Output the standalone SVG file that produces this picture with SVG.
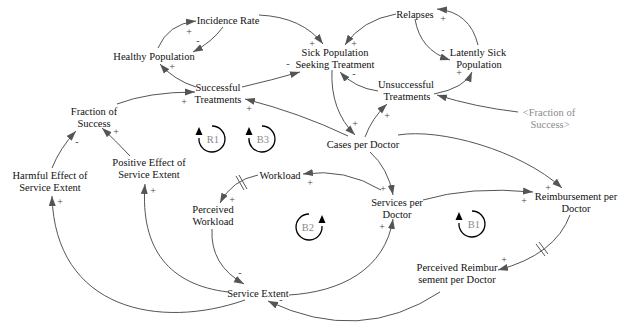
<svg xmlns="http://www.w3.org/2000/svg" width="622" height="325" viewBox="0 0 622 325" font-family="'Liberation Serif', 'Times New Roman', serif">
<style>
.lbl{font-family:"Liberation Serif","Times New Roman",serif;font-size:10.5px;fill:#111;text-anchor:middle}
.gry{fill:#8a8a8a}
.pol{font-family:"Liberation Serif","Times New Roman",serif;font-size:10px;fill:#444;text-anchor:middle}
.c{fill:none;stroke:#555;stroke-width:1;marker-end:url(#ah)}
.loop{fill:none;stroke:#000;stroke-width:1.3}
.dl{stroke:#555;stroke-width:1}
</style>
<defs>
<marker id="ah" markerUnits="userSpaceOnUse" markerWidth="10" markerHeight="8" refX="10" refY="4" orient="auto">
<path d="M0,0.5 L10,4 L0,7.5 z" fill="#555"/>
</marker>
</defs>
<rect width="622" height="325" fill="#fff"/>
<g id="connectors">
<path class="c" d="M158,48 Q168,24 196,21"/>
<path class="c" d="M223,27 Q212,42 193,52"/>
<path class="c" d="M259,15 Q302,17 323,44"/>
<path class="c" d="M396,14 Q362,20 345,45"/>
<path class="c" d="M415,19 Q420,50 450,60"/>
<path class="c" d="M478,45 Q470,12 437,9"/>
<path class="c" d="M196,87 Q174,80 160,64"/>
<path class="c" d="M242,87 Q272,80 300,72"/>
<path class="c" d="M378,91 Q355,88 340,72"/>
<path class="c" d="M434,94 Q465,88 472,72"/>
<path class="c" d="M518,112 Q475,107 437,95"/>
<path class="c" d="M117,104 Q148,92 195,92"/>
<path class="c" d="M348,136 Q300,113 245,99"/>
<path class="c" d="M332,70 Q330,110 355,135"/>
<path class="c" d="M365,137 Q372,118 387,104"/>
<path class="c" d="M370,152 Q388,168 393,195"/>
<path class="c" d="M398,135 C440,128 520,150 562,188"/>
<path class="c" d="M423,200 Q470,186 533,192"/>
<path class="c" d="M381,190 Q345,168 303,174"/>
<path class="c" d="M258,175 Q232,180 220,203"/>
<path class="c" d="M212,229 Q210,265 244,284"/>
<path class="c" d="M289,295 C340,292 385,270 393,219"/>
<path class="c" d="M440,292 Q360,345 268,301"/>
<path class="c" d="M570,215 Q555,255 498,270"/>
<path class="c" d="M245,300 C160,330 55,310 52,196"/>
<path class="c" d="M228,292 C170,285 140,250 145,184"/>
<path class="c" d="M52,168 Q60,148 76,131"/>
<path class="c" d="M130,156 Q115,140 102,128"/>
<line class="dl" x1="236" y1="176" x2="244" y2="190"/>
<line class="dl" x1="239" y1="175" x2="247" y2="189"/>
<line class="dl" x1="536" y1="244" x2="545" y2="256"/>
<line class="dl" x1="539" y1="242" x2="548" y2="254"/>
</g>
<g id="polarities">
<text class="pol" x="189" y="35">+</text>
<text class="pol" x="198" y="44">-</text>
<text class="pol" x="312" y="47">+</text>
<text class="pol" x="354" y="47">+</text>
<text class="pol" x="443" y="53">-</text>
<text class="pol" x="443" y="22">+</text>
<text class="pol" x="288" y="67">-</text>
<text class="pol" x="172" y="70">+</text>
<text class="pol" x="354" y="77">-</text>
<text class="pol" x="459" y="76">+</text>
<text class="pol" x="444" y="98">-</text>
<text class="pol" x="184" y="105">+</text>
<text class="pol" x="249" y="112">+</text>
<text class="pol" x="355" y="127">+</text>
<text class="pol" x="387" y="119">+</text>
<text class="pol" x="116" y="135">+</text>
<text class="pol" x="77" y="145">-</text>
<text class="pol" x="310" y="186">+</text>
<text class="pol" x="232" y="203">+</text>
<text class="pol" x="383" y="192">+</text>
<text class="pol" x="548" y="191">+</text>
<text class="pol" x="524" y="204">+</text>
<text class="pol" x="60" y="205">+</text>
<text class="pol" x="153" y="194">+</text>
<text class="pol" x="240" y="276">-</text>
<text class="pol" x="382" y="230">+</text>
<text class="pol" x="504" y="263">+</text>
<text class="pol" x="281" y="303">-</text>
</g>
<g id="loop-R1">
<path class="loop" d="M212,126 A13,13 0 1 1 199,138"/>
<polygon points="199,127 195.5,135 202.5,135" fill="#000"/>
<text class="lbl gry" x="213" y="143" font-size="11">R1</text>
</g>
<g id="loop-B3">
<path class="loop" d="M262,126 A13,13 0 1 1 249,138"/>
<polygon points="249,127 245.5,135 252.5,135" fill="#000"/>
<text class="lbl gry" x="263" y="143">B3</text>
</g>
<g id="loop-B2">
<path class="loop" d="M309,214 A13,13 0 1 0 322,226"/>
<polygon points="322,215 318.5,223 325.5,223" fill="#000"/>
<text class="lbl gry" x="308" y="231">B2</text>
</g>
<g id="loop-B1">
<path class="loop" d="M472,211 A13,13 0 1 1 459,223"/>
<polygon points="459,212 455.5,220 462.5,220" fill="#000"/>
<text class="lbl gry" x="474" y="228">B1</text>
</g>
<g id="incidence-rate"><text class="lbl" x="228" y="24">Incidence Rate</text></g>
<g id="healthy-population"><text class="lbl" x="154" y="60">Healthy Population</text></g>
<g id="sick-population"><text class="lbl" x="335" y="56">Sick Population</text><text class="lbl" x="335" y="68">Seeking Treatment</text></g>
<g id="relapses"><text class="lbl" x="415" y="18">Relapses</text></g>
<g id="latently-sick"><text class="lbl" x="478" y="56">Latently Sick</text><text class="lbl" x="479" y="68">Population</text></g>
<g id="unsuccessful-treatments"><text class="lbl" x="406" y="88">Unsuccessful</text><text class="lbl" x="407" y="100">Treatments</text></g>
<g id="successful-treatments"><text class="lbl" x="218" y="91">Successful</text><text class="lbl" x="218" y="103">Treatments</text></g>
<g id="fraction-shadow"><text class="lbl gry" x="549" y="116">&lt;Fraction of</text><text class="lbl gry" x="550" y="128">Success&gt;</text></g>
<g id="fraction-of-success"><text class="lbl" x="94" y="115">Fraction of</text><text class="lbl" x="94" y="127">Success</text></g>
<g id="cases-per-doctor"><text class="lbl" x="363" y="148">Cases per Doctor</text></g>
<g id="harmful-effect"><text class="lbl" x="50" y="179">Harmful Effect of</text><text class="lbl" x="50" y="191">Service Extent</text></g>
<g id="positive-effect"><text class="lbl" x="149" y="166">Positive Effect of</text><text class="lbl" x="149" y="178">Service Extent</text></g>
<g id="workload"><text class="lbl" x="280" y="179">Workload</text></g>
<g id="perceived-workload"><text class="lbl" x="213" y="213">Perceived</text><text class="lbl" x="213" y="225">Workload</text></g>
<g id="services-per-doctor"><text class="lbl" x="397" y="206">Services per</text><text class="lbl" x="397" y="218">Doctor</text></g>
<g id="reimbursement-per-doctor"><text class="lbl" x="576" y="200">Reimbursement per</text><text class="lbl" x="576" y="212">Doctor</text></g>
<g id="perceived-reimbursement"><text class="lbl" x="457" y="271">Perceived Reimbur</text><text class="lbl" x="457" y="283">sement per Doctor</text></g>
<g id="service-extent"><text class="lbl" x="258" y="297">Service Extent</text></g>
</svg>
